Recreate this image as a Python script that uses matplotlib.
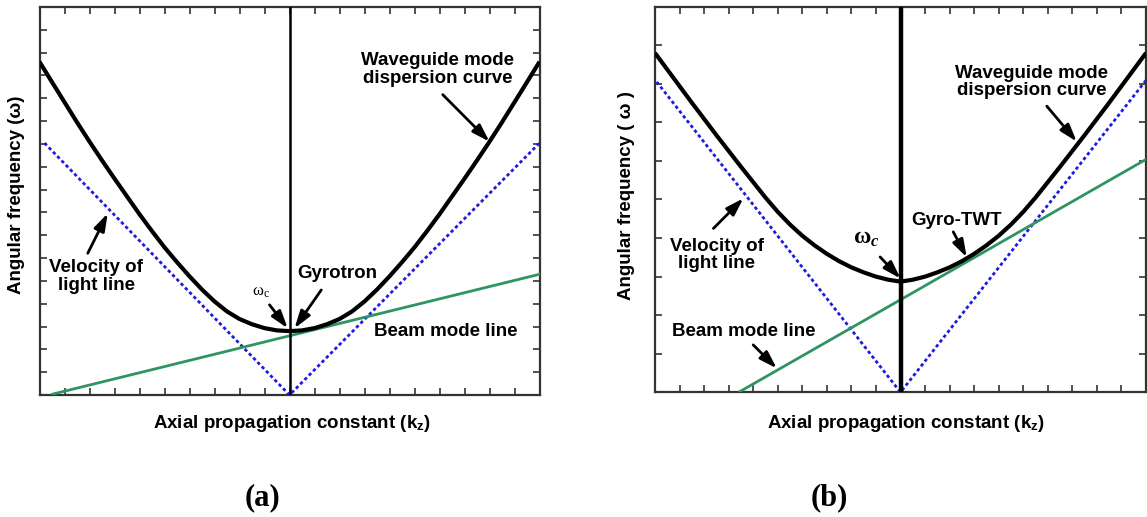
import matplotlib
matplotlib.use("Agg")
import matplotlib.pyplot as plt

# ---------------- data ----------------
k_grid = [-10, -9.5, -9, -8.5, -8, -7.5, -7, -6.5, -6, -5.5, -5, -4.5, -4, -3.5, -3,
          -2.5, -2, -1.5, -1, -0.5, 0, 0.5, 1, 1.5, 2, 2.5, 3, 3.5, 4, 4.5, 5,
          5.5, 6, 6.5, 7, 7.5, 8, 8.5, 9, 9.5, 10]

# panel (a): gyrotron
omega_a = [14.60, 13.71, 12.83, 11.95, 11.10, 10.28, 9.48, 8.70, 7.92, 7.18, 6.47,
           5.82, 5.20, 4.62, 4.10, 3.66, 3.33, 3.10, 2.93, 2.83, 2.80,
           2.83, 2.93, 3.10, 3.33, 3.66, 4.10, 4.62, 5.20, 5.82, 6.47,
           7.18, 7.92, 8.70, 9.48, 10.28, 11.10, 11.95, 12.83, 13.71, 14.60]
light_k_a = [-9.8, 0, 10]
light_w_a = [11.04, 0, 11.04]
beam_k_a = [-9.47, 10]
beam_w_a = [0.04, 5.29]

# panel (b): gyro-TWT
omega_b = [8.80, 8.37, 7.94, 7.51, 7.09, 6.67, 6.26, 5.85, 5.45, 5.05, 4.68,
           4.35, 4.06, 3.81, 3.59, 3.40, 3.24, 3.11, 3.00, 2.92, 2.87,
           2.92, 3.00, 3.11, 3.24, 3.40, 3.59, 3.81, 4.06, 4.35, 4.68,
           5.05, 5.45, 5.85, 6.26, 6.67, 7.09, 7.51, 7.94, 8.37, 8.80]
light_k_b = [-9.93, 0, 10]
light_w_b = [8.05, 0, 8.09]
beam_k_b = [-6.54, 10]
beam_w_b = [0.02, 6.04]

xlabel = "Axial propagation constant (k$_{\\mathsf{z}}$)"
ylabel_a = "Angular frequency (\u03c9)"
ylabel_b = "Angular frequency ( \u03c9 )"

# ---------------- style ----------------
plt.rcParams['font.family'] = ['Liberation Sans', 'DejaVu Sans']
plt.rcParams['mathtext.fontset'] = 'custom'
plt.rcParams['mathtext.rm'] = 'Liberation Serif'
plt.rcParams['mathtext.it'] = 'Liberation Serif:italic'
plt.rcParams['mathtext.bf'] = 'Liberation Serif:bold'
plt.rcParams['mathtext.bfit'] = 'Liberation Serif:italic:bold'
plt.rcParams['mathtext.sf'] = 'Liberation Sans:bold'

BLUE = '#1c1ce0'
GREEN = '#2f9462'
SPINE = '#333333'
FS = 13.5

W, H = 1147, 517
fig = plt.figure(figsize=(W / 100, H / 100), dpi=100)
axa = fig.add_axes([39.5 / W, 122 / H, 500 / W, 388 / H])
axb = fig.add_axes([655 / W, 124.7 / H, 491 / W, 385.6 / H])


def style(ax, ymax, vlw):
    ax.set_xlim(-10, 10)
    ax.set_ylim(0, ymax)
    ax.set_xticks(range(-10, 11))
    ax.set_yticks(range(0, ymax + 1))
    ax.tick_params(direction='in', length=5, width=1.2, color=SPINE,
                   top=True, right=True, labelbottom=False, labelleft=False)
    for s in ax.spines.values():
        s.set_linewidth(1.6)
        s.set_color(SPINE)
    ax.axvline(0, color='k', lw=vlw, zorder=5)


def arrow(ax, tail, tip):
    ax.annotate('', xy=tip, xytext=tail,
                arrowprops=dict(arrowstyle='-|>,head_length=0.75,head_width=0.24',
                                color='k', lw=2.0, shrinkA=0, shrinkB=0,
                                mutation_scale=14), zorder=7)


def label(ax, x, y, s, **kw):
    ax.text(x, y, s, ha='center', va='center', fontsize=FS, fontweight='bold',
            linespacing=1.05, zorder=8, **kw)


# ---------------- panel (a) ----------------
style(axa, 17, 1.8)
axa.plot(light_k_a, light_w_a, color=BLUE, lw=2.0, linestyle=(0, (1.2, 1.0)), zorder=3)
axa.plot(beam_k_a, beam_w_a, color=GREEN, lw=2.0, zorder=3)
axa.plot(k_grid, omega_a, color='k', lw=3.0, solid_joinstyle='round',
         solid_capstyle='butt', zorder=4)

label(axa, 5.93, 14.25, "Waveguide mode\ndispersion curve")
arrow(axa, (6.13, 13.16), (8.0, 11.1))
label(axa, 1.93, 5.34, "Gyrotron")
arrow(axa, (1.27, 4.6), (0.2, 2.92))
axa.text(-1.13, 4.5, r'$\mathrm{\omega}_\mathrm{c}$', ha='center', va='center', fontsize=12)
arrow(axa, (-0.8, 3.95), (-0.07, 2.92))
label(axa, -7.73, 5.19, "Velocity of\nlight line")
arrow(axa, (-8.07, 6.21), (-7.27, 7.96))
label(axa, 6.27, 2.78, "Beam mode line")

# ---------------- panel (b) ----------------
style(axb, 10, 3.2)
axb.plot(light_k_b, light_w_b, color=BLUE, lw=2.0, linestyle=(0, (1.2, 1.0)), zorder=3)
axb.plot(beam_k_b, beam_w_b, color=GREEN, lw=2.0, zorder=3)
axb.plot(k_grid, omega_b, color='k', lw=3.0, solid_joinstyle='round',
         solid_capstyle='butt', zorder=4)

label(axb, 5.34, 8.05, "Waveguide mode\ndispersion curve")
arrow(axb, (5.96, 7.42), (7.18, 6.5))
label(axb, 2.29, 4.46, "Gyro-TWT")
arrow(axb, (2.15, 4.16), (2.7, 3.5))
axb.text(-1.38, 4.0, r'$\mathbf{\omega}_{\mathbfit{c}}$', ha='center', va='center', fontsize=17)
arrow(axb, (-0.83, 3.51), (0.0, 2.95))
label(axb, -7.49, 3.56, "Velocity of\nlight line")
arrow(axb, (-7.62, 4.25), (-6.4, 5.03))
label(axb, -6.37, 1.57, "Beam mode line")
arrow(axb, (-6.0, 1.23), (-5.04, 0.62))

# ---------------- figure-level labels ----------------
fig.text(292 / W, 1 - 424 / H, xlabel, ha='center', va='center', fontsize=FS, fontweight='bold')
fig.text(906 / W, 1 - 424 / H, xlabel, ha='center', va='center', fontsize=FS, fontweight='bold')
fig.text(16.7 / W, 1 - 195 / H, ylabel_a, ha='center', va='center', rotation=90,
         fontsize=FS, fontweight='bold')
fig.text(626.7 / W, 1 - 196 / H, ylabel_b, ha='center', va='center', rotation=90,
         fontsize=FS, fontweight='bold')
fig.text(262 / W, 1 - 498 / H, "(a)", ha='center', va='center', fontsize=22,
         fontweight='bold', family='Liberation Serif')
fig.text(829 / W, 1 - 498 / H, "(b)", ha='center', va='center', fontsize=22,
         fontweight='bold', family='Liberation Serif')

fig.savefig('out.png', dpi=100)
